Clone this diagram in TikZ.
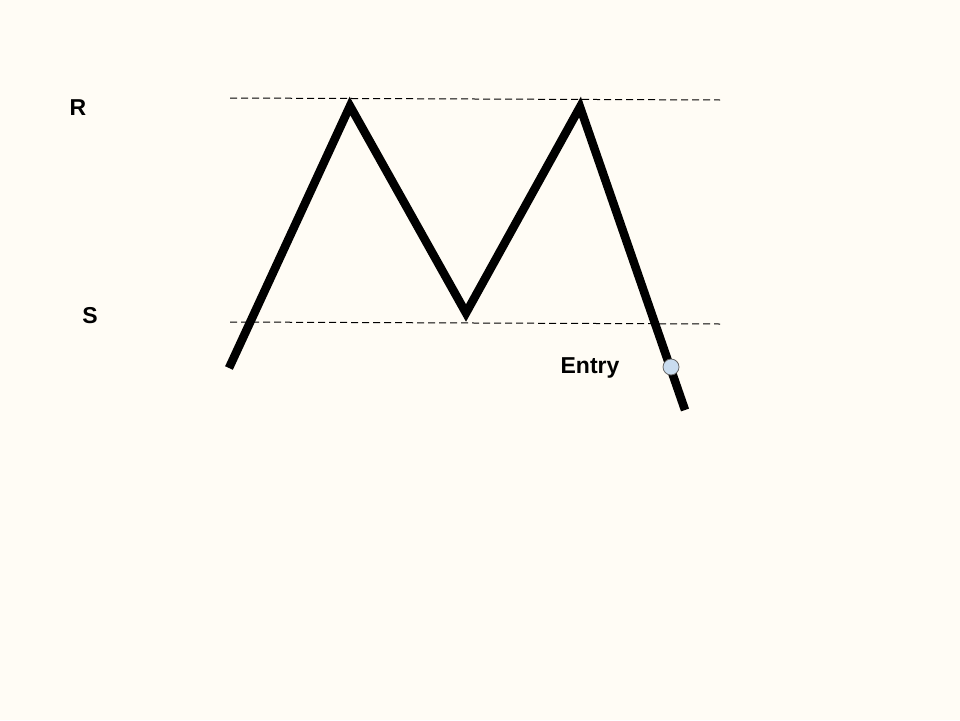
\documentclass[tikz,border=0pt]{standalone}
\usepackage{fontspec}
\setmainfont{Liberation Sans}
\definecolor{paper}{HTML}{FFFCF5}
\definecolor{dotblue}{HTML}{C9DCEF}
\begin{document}
\begin{tikzpicture}[x=1pt,y=-1pt]
			\tikzset{label style/.style={font=\fontsize{23}{23}\selectfont\bfseries},
				level line/.style={dash pattern=on 7pt off 4pt,line width=1pt},
				price line/.style={line width=8.5pt,line join=miter}}
			\def\xmax{960}
			\def\ymax{720}
			\fill[paper] (0,0) rectangle (\xmax,\ymax);
			\useasboundingbox (0,0) rectangle (\xmax,\ymax);
			% levels
			\coordinate (r1) at (230,98);
			\coordinate (r2) at (720,100);
			\coordinate (s1) at (230,322);
			\coordinate (s2) at (720,324);
			\draw[level line] (r1)--(r2);
			\draw[level line] (s1)--(s2);
			\node[label style] (rlab) at (78,108) {R};
			\node[label style] (slab) at (90,316) {S};
			% price path
			\coordinate (p0) at (229,368);
			\coordinate (p1) at (350,106);
			\coordinate (p2) at (466,313);
			\coordinate (p3) at (580,107);
			\coordinate (p4) at (685,410);
			\draw[price line] (p0)--(p1)--(p2)--(p3)--(p4);
			\node[circle,draw=black!60,fill=dotblue,line width=0.8pt,minimum size=16pt,inner sep=0pt] (entry) at (671,367) {};
			\node[label style] (entrylab) at (590,368) {Entry};
		\end{tikzpicture}
\end{document}
